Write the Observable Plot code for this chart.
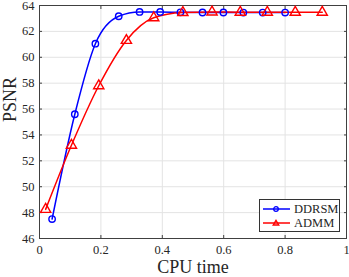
<!DOCTYPE html>
<html>
<head>
<meta charset="utf-8">
<script src="https://cdn.jsdelivr.net/npm/d3@7"></script>
<script src="https://cdn.jsdelivr.net/npm/@observablehq/plot@0.6"></script>
<style>
  body { margin: 0; background: #fff; }
  #wrap { position: relative; width: 349px; height: 277px; font-family: "Liberation Serif", "Times New Roman", serif; }
  #legend { position: absolute; left: 259px; top: 199px; width: 79px; height: 31px; border: 1px solid #333; background: #fff; font-size: 12.5px; font-family: "Liberation Serif", "Times New Roman", serif; }
  #legend .row { position: absolute; left: 0; height: 14px; display: flex; align-items: center; }
  #legend svg { display: block; }
</style>
</head>
<body>
<div id="wrap"></div>
<script>
const ddrsmX = [0.041, 0.115, 0.182, 0.258, 0.326, 0.393, 0.459, 0.531, 0.599, 0.664, 0.727, 0.800];
const ddrsmY = [47.5, 55.6, 61.05, 63.17, 63.5, 63.5, 63.47, 63.46, 63.46, 63.45, 63.45, 63.45];
const admmX = [0.020, 0.104, 0.193, 0.283, 0.372, 0.467, 0.562, 0.654, 0.742, 0.833, 0.921];
const admmY = [48.25, 53.2, 57.8, 61.3, 63.05, 63.45, 63.5, 63.48, 63.48, 63.47, 63.47];
const xTicks = [0, 0.2, 0.4, 0.6, 0.8, 1];
const yTicks = [46, 48, 50, 52, 54, 56, 58, 60, 62, 64];
const seriesNames = ["DDRSM", "ADMM"];
const colors = ["#0000ff", "#ff0000"];

const ddrsm = ddrsmX.map((x, i) => ({x, y: ddrsmY[i]}));
const admm = admmX.map((x, i) => ({x, y: admmY[i]}));

const serif = "Liberation Serif, Times New Roman, serif";
const axisColor = "#404040";
const chart = Plot.plot({
  width: 349,
  height: 277,
  marginLeft: 39,
  marginRight: 3,
  marginTop: 5,
  marginBottom: 39,
  style: {fontFamily: serif, background: "#fff", overflow: "visible"},
  x: {domain: [0, 1]},
  y: {domain: [46, 64]},
  marks: [
    Plot.gridX(xTicks.slice(1, -1), {stroke: "#e3e3e3", strokeOpacity: 1}),
    Plot.gridY(yTicks.slice(1, -1), {stroke: "#e3e3e3", strokeOpacity: 1}),
    Plot.axisX(xTicks, {tickSize: 0, tickPadding: 7, fontSize: 12.5, fontFamily: serif, fill: "#262626", label: null, tickFormat: d => d === 0 || d === 1 ? String(d) : d3.format(".1f")(d)}),
    Plot.axisY(yTicks, {tickSize: 0, tickPadding: 5, fontSize: 12.5, fontFamily: serif, fill: "#262626", label: null}),
    Plot.axisX(xTicks, {anchor: "bottom", tickSize: -3, stroke: axisColor, tickFormat: () => "", label: null}),
    Plot.axisX(xTicks, {anchor: "top", tickSize: -3, stroke: axisColor, tickFormat: () => "", label: null}),
    Plot.axisY(yTicks, {anchor: "left", tickSize: -3, stroke: axisColor, tickFormat: () => "", label: null}),
    Plot.axisY(yTicks, {anchor: "right", tickSize: -3, stroke: axisColor, tickFormat: () => "", label: null}),
    Plot.frame({stroke: axisColor, strokeWidth: 1}),
    Plot.line(ddrsm, {x: "x", y: "y", stroke: colors[0], strokeWidth: 1.5, curve: "monotone-x"}),
    Plot.line(admm, {x: "x", y: "y", stroke: colors[1], strokeWidth: 1.5, curve: "monotone-x"}),
    Plot.dot(ddrsm, {x: "x", y: "y", stroke: colors[0], strokeWidth: 1.4, r: 3.2, fill: "none"}),
    Plot.dot(admm, {x: "x", y: "y", stroke: colors[1], strokeWidth: 1.4, r: 3.8, symbol: "triangle", fill: "none"}),
    Plot.text(["CPU time"], {frameAnchor: "bottom", lineAnchor: "middle", dy: 29, fontSize: 18, fontFamily: serif, fill: "#262626"}),
    Plot.text(["PSNR"], {frameAnchor: "left", lineAnchor: "middle", dx: -29, rotate: -90, fontSize: 18, fontFamily: serif, fill: "#262626"})
  ]
});
const wrap = document.getElementById("wrap");
wrap.appendChild(chart);

const legend = document.createElement("div");
legend.id = "legend";
seriesNames.forEach((name, i) => {
  const row = document.createElement("div");
  row.className = "row";
  row.style.top = (2 + i * 14) + "px";
  const marker = i === 0
    ? `<circle cx="16" cy="7" r="2.3" fill="none" stroke="${colors[i]}" stroke-width="1.3"/>`
    : `<path d="M16,4.3 L18.8,9 L13.2,9 Z" fill="none" stroke="${colors[i]}" stroke-width="1.3"/>`;
  row.innerHTML = `<svg width="34" height="14"><line x1="3" x2="30" y1="7" y2="7" stroke="${colors[i]}" stroke-width="1.5"/>${marker}</svg><span style="color:#262626">${name}</span>`;
  legend.appendChild(row);
});
wrap.appendChild(legend);
</script>
</body>
</html>
